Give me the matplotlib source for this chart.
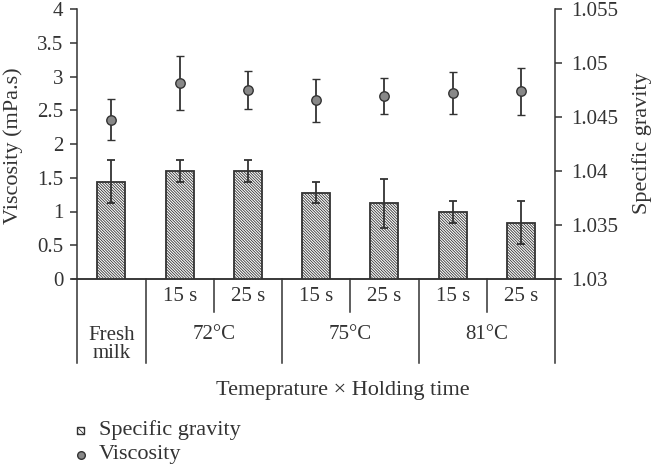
import matplotlib
matplotlib.use('Agg')
import matplotlib.pyplot as plt
import matplotlib.patches as patches
from matplotlib.lines import Line2D
import numpy as np

plt.rcParams['font.family'] = ['Liberation Serif', 'DejaVu Serif']
plt.rcParams['hatch.linewidth'] = 0.6

# data
times = ['', '15 s', '25 s', '15 s', '25 s', '15 s', '25 s']
groups = ['Fresh\nmilk', '72°C', '75°C', '81°C']
viscosity = [2.36, 2.90, 2.80, 2.65, 2.71, 2.76, 2.78]
viscosity_err = [0.30, 0.40, 0.28, 0.32, 0.27, 0.31, 0.35]
gravity = [1.0390, 1.0400, 1.0400, 1.0380, 1.0370, 1.0362, 1.0352]
gravity_err = [0.0020, 0.0010, 0.0010, 0.0010, 0.0023, 0.0010, 0.0020]

dark = '#333333'
W, H = 654, 467
x = np.arange(len(viscosity))
HATCH = '\\' * 12

fig = plt.figure(figsize=(W / 100, H / 100), dpi=100)
ax = fig.add_axes([77.3 / W, 1 - 279 / H, (555 - 77.3) / W, 270 / H])
ax2 = ax.twinx()

# bars: specific gravity (right axis)
ax2.bar(x, np.array(gravity) - 1.03, bottom=1.03, width=0.41, color='white',
        edgecolor=dark, linewidth=1.3, hatch=HATCH, zorder=2)
ax2.errorbar(x, gravity, yerr=gravity_err, fmt='none', ecolor=dark,
             elinewidth=1.3, capsize=2.6, capthick=1.3, zorder=3)

# points: viscosity (left axis)
ax.errorbar(x, viscosity, yerr=viscosity_err, fmt='o', color='#888888',
            mec=dark, mew=1.0, ms=6.8, ecolor=dark, elinewidth=1.3,
            capsize=2.6, capthick=1.3, zorder=3)

ax.set_xlim(-0.5, 6.5)
ax.set_ylim(0, 4)
ax2.set_ylim(1.03, 1.055)
ax.set_yticks(np.arange(0, 4.01, 0.5))
ax.set_yticklabels(['0', '0.5', '1', '1.5', '2', '2.5', '3', '3.5', '4'])
ax2.set_yticks([1.03, 1.035, 1.04, 1.045, 1.05, 1.055])
ax2.set_yticklabels(['1.03', '1.035', '1.04', '1.045', '1.05', '1.055'])
ax.set_xticks([])

for a in (ax, ax2):
    a.spines['top'].set_visible(False)
    for s in a.spines.values():
        s.set_color(dark)
        s.set_linewidth(1.1)
    a.tick_params(axis='y', colors=dark, labelsize=15, length=5, width=1.1, pad=5)
ax.spines['right'].set_visible(False)
ax2.spines['left'].set_visible(False)
ax2.spines['bottom'].set_visible(False)
ax2.tick_params(axis='y', pad=7)

fig.text(13 / W, 1 - 146 / H, 'Viscosity (mPa.s)', rotation=90, ha='center',
         va='center', fontsize=16, color=dark)
fig.text(642 / W, 1 - 143 / H, 'Specific gravity', rotation=90, ha='center',
         va='center', fontsize=16, color=dark)

# category axis below the plot
tr = ax.get_xaxis_transform()
for b in [-0.5, 0.5, 2.5, 4.5, 6.5]:
    ax.plot([b, b], [0, -0.312], transform=tr, color=dark, lw=1.1, clip_on=False)
for b in [1.5, 3.5, 5.5]:
    ax.plot([b, b], [0, -0.121], transform=tr, color=dark, lw=1.1, clip_on=False)
ax.plot([-0.58, 6.58], [0, 0], transform=tr, color=dark, lw=1.1, clip_on=False)

for xi, t in zip(x, times):
    if t:
        ax.text(xi, -0.065, t, transform=tr, ha='center', va='center',
                fontsize=15, color=dark)
group_x = [0, 1.5, 3.5, 5.5]
for gx, g in zip(group_x, groups):
    yy = -0.243 if '\n' in g else -0.204
    ax.text(gx, yy, g, transform=tr, ha='center', va='center', fontsize=15,
            color=dark, linespacing=0.95)

fig.text(343 / W, 1 - 391 / H, 'Temeprature × Holding time', ha='center',
         va='center', fontsize=16, color=dark)

# legend, drawn by hand
sq = 7
fig.add_artist(patches.Rectangle((77 / W, 1 - (430 + sq / 2) / H), sq / W, sq / H,
                                 transform=fig.transFigure, facecolor='white',
                                 edgecolor=dark, lw=1.0, hatch='\\' * 6))
fig.add_artist(Line2D([81 / W], [1 - 455 / H], transform=fig.transFigure,
                      marker='o', ls='none', color='#888888', mec=dark,
                      mew=1.0, ms=5.5))
fig.text(99 / W, 1 - 430 / H, 'Specific gravity', ha='left', va='center',
         fontsize=16, color=dark)
fig.text(99 / W, 1 - 455 / H, 'Viscosity', ha='left', va='center',
         fontsize=16, color=dark)

fig.savefig('out.png', dpi=100)
